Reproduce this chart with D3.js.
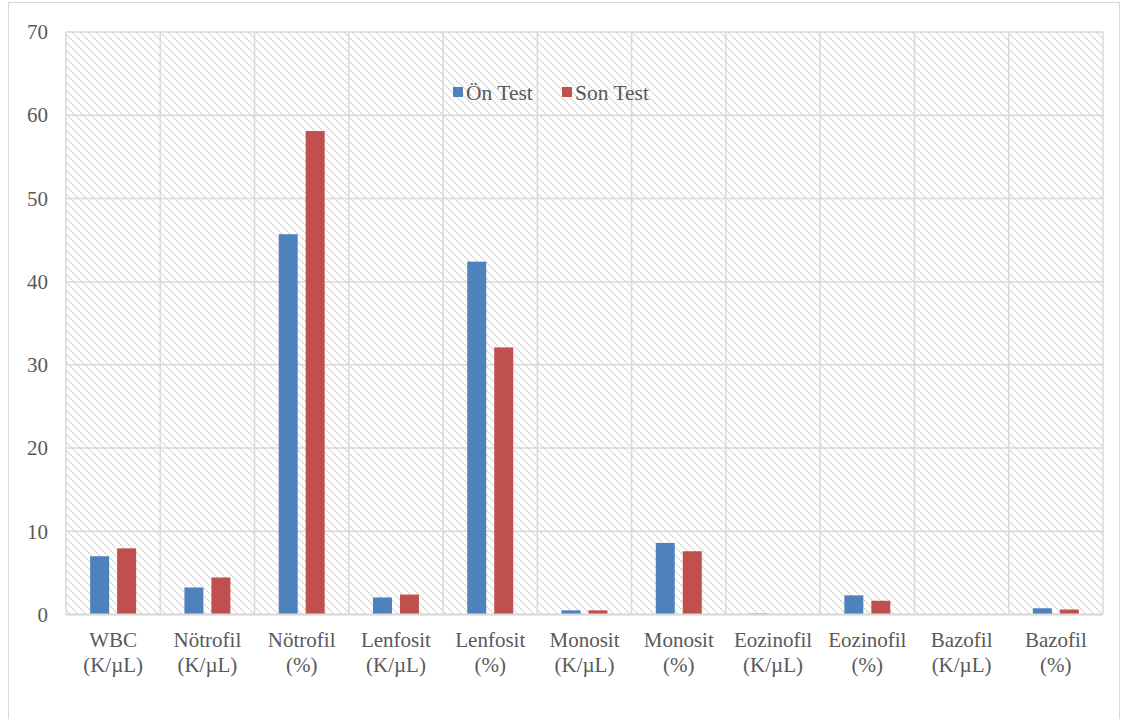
<!DOCTYPE html>
<html>
<head>
<meta charset="utf-8">
<script src="https://cdn.jsdelivr.net/npm/d3@7"></script>
<style>
  html, body { margin: 0; padding: 0; background: #ffffff; }
  svg { display: block; }
</style>
</head>
<body>
<svg id="chart" width="1125" height="719"></svg>
<script>
// Hemogram parameters (label lines) and the two measurement series
const categories = [
  ["WBC", "(K/µL)"],
  ["Nötrofil", "(K/µL)"],
  ["Nötrofil", "(%)"],
  ["Lenfosit", "(K/µL)"],
  ["Lenfosit", "(%)"],
  ["Monosit", "(K/µL)"],
  ["Monosit", "(%)"],
  ["Eozinofil", "(K/µL)"],
  ["Eozinofil", "(%)"],
  ["Bazofil", "(K/µL)"],
  ["Bazofil", "(%)"]
];
const seriesNames = ["Ön Test", "Son Test"];
const onTest  = [7.0, 3.25, 45.7, 2.05, 42.4, 0.5, 8.6, 0.12, 2.3, 0.02, 0.75];
const sonTest = [7.95, 4.45, 58.1, 2.4, 32.1, 0.5, 7.6, 0.06, 1.65, 0.01, 0.6];
const yTicks = [0, 10, 20, 30, 40, 50, 60, 70];
const colors = ["#4f81bd", "#c0504d"];

const FONT = "'Liberation Serif', 'Times New Roman', Times, serif";
const TEXT_COLOR = "#595959";

const svg = d3.select("#chart");
const plot = { left: 66, right: 1103, top: 32, bottom: 614.5 };

// Diagonal hatch used as the plot background
const defs = svg.append("defs");
const pat = defs.append("pattern")
  .attr("id", "hatch")
  .attr("patternUnits", "userSpaceOnUse")
  .attr("width", 8).attr("height", 8);
pat.append("rect").attr("width", 8).attr("height", 8).attr("fill", "#ffffff");
[0, 2, 4, 6].forEach(k => {
  pat.append("rect").attr("x", k).attr("y", k).attr("width", 2).attr("height", 2).attr("fill", "#e0e0e0");
});

// Outer chart frame
svg.append("rect")
  .attr("x", 8.5).attr("y", 2.5)
  .attr("width", 1111).attr("height", 730)
  .attr("fill", "none").attr("stroke", "#d9d9d9").attr("stroke-width", 1);

const x0 = d3.scaleBand()
  .domain(d3.range(categories.length))
  .range([plot.left, plot.right])
  .paddingInner(0).paddingOuter(0);

const x1 = d3.scaleBand()
  .domain(seriesNames)
  .range([0, x0.bandwidth()])
  .paddingInner(0.296)
  .paddingOuter(0.895);

const y = d3.scaleLinear().domain([0, 70]).range([plot.bottom, plot.top]);

// Hatched plot area
svg.append("rect")
  .attr("x", plot.left).attr("y", plot.top)
  .attr("width", plot.right - plot.left).attr("height", plot.bottom - plot.top)
  .attr("fill", "url(#hatch)");

// Horizontal gridlines
svg.append("g").selectAll("line").data(yTicks).join("line")
  .attr("x1", plot.left).attr("x2", plot.right)
  .attr("y1", d => y(d)).attr("y2", d => y(d))
  .attr("stroke", "#d9d9d9").attr("stroke-width", 1.5);

// Vertical gridlines at category boundaries
const bounds = d3.range(categories.length).map(i => x0(i)).concat([plot.right]);
svg.append("g").selectAll("line").data(bounds).join("line")
  .attr("x1", d => d).attr("x2", d => d)
  .attr("y1", plot.top).attr("y2", plot.bottom)
  .attr("stroke", "#d9d9d9").attr("stroke-width", 1.5);

// Bars
const data = categories.map((c, i) => ({ i, values: [onTest[i], sonTest[i]] }));
const groups = svg.append("g").selectAll("g").data(data).join("g")
  .attr("transform", d => `translate(${x0(d.i)},0)`);
groups.selectAll("rect")
  .data(d => d.values.map((v, k) => ({ key: seriesNames[k], v, k })))
  .join("rect")
  .attr("x", d => x1(d.key))
  .attr("width", x1.bandwidth())
  .attr("y", d => y(d.v))
  .attr("height", d => y(0) - y(d.v))
  .attr("fill", d => colors[d.k]);

// Baseline
svg.append("line")
  .attr("x1", plot.left).attr("x2", plot.right)
  .attr("y1", y(0)).attr("y2", y(0))
  .attr("stroke", "#d9d9d9").attr("stroke-width", 2);

// Y axis labels
const yAxis = d3.axisLeft(y).tickValues(yTicks).tickSize(0).tickPadding(0).tickFormat(d3.format("d"));
const ya = svg.append("g").attr("transform", `translate(48,0)`).call(yAxis)
  .attr("font-family", FONT).attr("font-size", 21);
ya.select(".domain").remove();
ya.selectAll("text")
  .attr("font-family", FONT)
  .attr("font-size", 21)
  .attr("fill", TEXT_COLOR)
  .attr("dy", "0.32em");

// Category labels (two lines)
const xl = svg.append("g").selectAll("text").data(categories).join("text")
  .attr("text-anchor", "middle")
  .attr("font-family", FONT)
  .attr("font-size", 21)
  .attr("fill", TEXT_COLOR)
  .attr("x", (d, i) => x0(i) + x0.bandwidth() / 2)
  .attr("y", 647);
xl.append("tspan").attr("x", (d, i) => x0(i) + x0.bandwidth() / 2).text(d => d[0]);
xl.append("tspan").attr("x", (d, i) => x0(i) + x0.bandwidth() / 2).attr("dy", 24.5).text(d => d[1]);

// Legend
const legend = svg.append("g");
const legendX = [453, 562];
seriesNames.forEach((name, k) => {
  legend.append("rect")
    .attr("x", legendX[k]).attr("y", 87)
    .attr("width", 10).attr("height", 10)
    .attr("fill", colors[k]);
  legend.append("text")
    .attr("x", legendX[k] + 13).attr("y", 99.5)
    .attr("font-family", FONT)
    .attr("font-size", 21.5)
    .attr("fill", TEXT_COLOR)
    .text(name);
});
</script>
</body>
</html>
